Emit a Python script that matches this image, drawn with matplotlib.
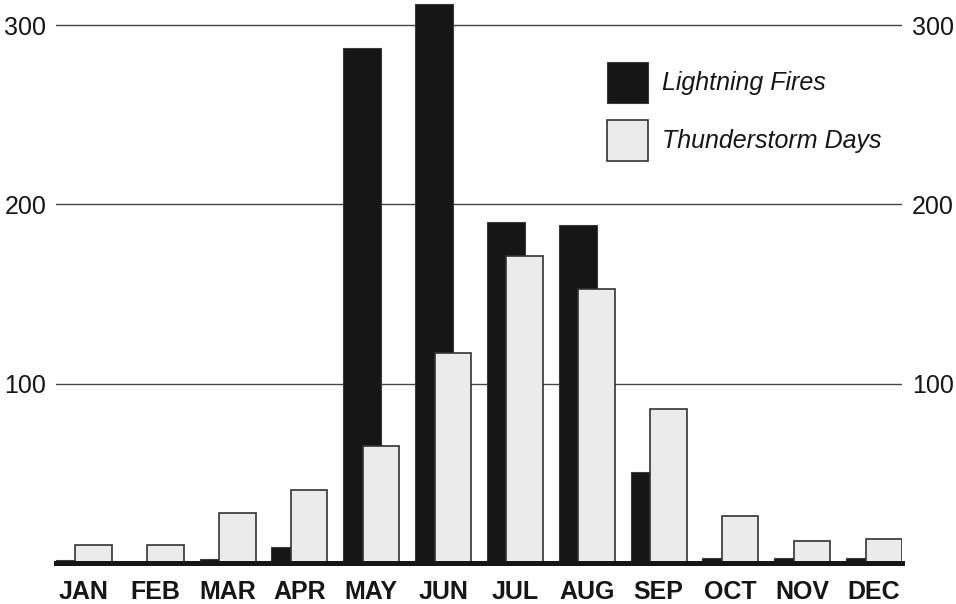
import numpy as np
import matplotlib.pyplot as plt

plt.rcParams['font.family'] = ['Liberation Sans', 'DejaVu Sans']

months = ["JAN", "FEB", "MAR", "APR", "MAY", "JUN",
          "JUL", "AUG", "SEP", "OCT", "NOV", "DEC"]
lightning_fires = [1.5, 0.5, 2.5, 8.7, 287.5, 312, 190, 188.5, 51, 2.6, 2.6, 2.6]
thunderstorm_days = [10, 10, 28, 40.5, 65.5, 117.3, 171, 153, 86, 26.4, 12, 13.2]

fig = plt.figure(figsize=(9.56, 6.04), dpi=100)
ax = fig.add_axes([56 / 956, 41 / 604, 846 / 956, 563 / 604])

x = np.arange(len(months))
ax.bar(x, lightning_fires, width=0.525, align="edge", color="#161616",
       edgecolor="#3a3a3a", linewidth=0.8, zorder=2, label="Lightning Fires")
ax.bar(x + 0.27, thunderstorm_days, width=0.508, align="edge", color="#ebebeb",
       edgecolor="#333333", linewidth=1.2, zorder=3, label="Thunderstorm Days")

# grid lines and heavy baseline
for v in [100, 200, 300]:
    ax.axhline(v, color="#444444", lw=1.0, zorder=1)
ax.axhline(0, color="#161616", lw=3.6, zorder=5, clip_on=False)

ax.set_xlim(0, 11.778)
ax.set_ylim(0, 314)

for s in ax.spines.values():
    s.set_visible(False)

ax.set_xticks(x + 0.389)
ax.set_xticklabels(months, fontsize=18, fontweight="bold", color="#161616")
ax.tick_params(axis="x", length=0, pad=12)
ax.set_yticks([100, 200, 300])
ax.tick_params(axis="y", length=0, labelsize=18, labelcolor="#161616",
               left=True, right=True, labelleft=True, labelright=True, pad=7)

fs = 18
fs_px = fs * 100 / 72
hh = (41 / fs_px - 0.245) / 0.65
leg = ax.legend(loc="upper left", bbox_to_anchor=(607 / 956, 1 - 62 / 604),
                bbox_transform=fig.transFigure, frameon=False,
                borderpad=0, borderaxespad=0,
                handlelength=41 / fs_px, handleheight=hh,
                handletextpad=14 / fs_px, labelspacing=17 / fs_px,
                prop={"size": fs, "style": "italic"})
for t in leg.get_texts():
    t.set_color("#161616")

fig.savefig("out.png", dpi=100)
